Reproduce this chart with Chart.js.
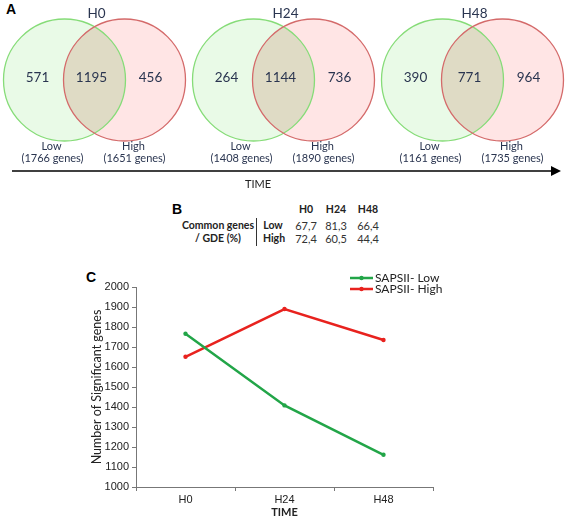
<!DOCTYPE html>
<html>
<head>
<meta charset="utf-8">
<script src="https://cdn.jsdelivr.net/npm/chart.js@4.4.1/dist/chart.umd.min.js"></script>
<style>
body{margin:0;background:#fff;width:567px;height:519px;position:relative;overflow:hidden;font-family:Lato,"Liberation Sans",sans-serif;color:#222}
canvas{position:absolute;left:0}
.t{position:absolute;transform:translate(-50%,-50%);white-space:nowrap}
.lbl{position:absolute;font:bold 14px "Liberation Sans",Arial,sans-serif;color:#000}
.b{font-weight:bold;font-size:10.5px}
.v{font-size:11px;color:#333}
</style>
</head>
<body>
<div class="lbl" style="left:6px;top:1px">A</div>
<div class="lbl" style="left:172px;top:201px">B</div>
<div class="lbl" style="left:86px;top:269px">C</div>
<canvas id="venn" width="567" height="200" style="top:0;width:567px;height:200px"></canvas>
<div id="tab"></div>
<canvas id="myChart" width="567" height="259" style="top:260px;width:567px;height:259px"></canvas>
<script>
// time points
let times=["H0","H24","H48"]
// venn counts
let lowOnly=[571,264,390]
let common=[1195,1144,771]
let highOnly=[456,736,964]
let lowTotal=[1766,1408,1161]
let highTotal=[1651,1890,1735]
// panel B, common genes / GDE (%)
let pctLow=[67.7,81.3,66.4]
let pctHigh=[72.4,60.5,44.4]
// panel C
let yTicks=[1000,1100,1200,1300,1400,1500,1600,1700,1800,1900,2000]
let sigLow=[1766,1408,1161]
let sigHigh=[1651,1890,1735]

// ---- panel A: venns drawn by a plugin on a category scale
const vennPlugin={
  id:'venn',
  afterDraw(chart){
    const ctx=chart.ctx, xs=chart.scales.x, a=chart.chartArea
    const r=61, d=30, cy=a.top+80
    ctx.save()
    for (let i in times){
      const cx=xs.getPixelForValue(Number(i))
      ctx.beginPath();ctx.arc(cx-d,cy,r,0,Math.PI*2);ctx.fillStyle='#e9fae7';ctx.fill()
      ctx.beginPath();ctx.arc(cx+d,cy,r,0,Math.PI*2);ctx.fillStyle='#ffe5e5';ctx.fill()
      ctx.save()
      ctx.beginPath();ctx.arc(cx-d,cy,r,0,Math.PI*2);ctx.clip()
      ctx.beginPath();ctx.arc(cx+d,cy,r,0,Math.PI*2);ctx.fillStyle='#dfdbc5';ctx.fill()
      ctx.restore()
      ctx.lineWidth=1.3
      ctx.beginPath();ctx.arc(cx-d,cy,r,0,Math.PI*2);ctx.strokeStyle='#86dc78';ctx.stroke()
      ctx.beginPath();ctx.arc(cx+d,cy,r,0,Math.PI*2);ctx.strokeStyle='#d46a6a';ctx.stroke()
      ctx.fillStyle='#2a3550';ctx.textAlign='center';ctx.textBaseline='middle'
      ctx.font='13.5px Lato'
      ctx.fillText(times[i],cx+2,a.top+14)
      ctx.fillText(lowOnly[i],cx-57,cy-2)
      ctx.fillText(common[i],cx-3,cy-2)
      ctx.fillText(highOnly[i],cx+56,cy-2)
      ctx.font='11px Lato'
      ctx.fillText('Low',cx-43,a.top+146)
      ctx.fillText('('+lowTotal[i]+' genes)',cx-42,a.top+158)
      ctx.fillText('High',cx+39,a.top+146)
      ctx.fillText('('+highTotal[i]+' genes)',cx+40,a.top+158)
    }
    // time arrow
    ctx.strokeStyle='#000';ctx.lineWidth=1.5
    ctx.beginPath();ctx.moveTo(a.left+12,a.top+171);ctx.lineTo(a.right-14,a.top+171);ctx.stroke()
    ctx.fillStyle='#000'
    ctx.beginPath();ctx.moveTo(a.right-6,a.top+171);ctx.lineTo(a.right-16,a.top+166);ctx.lineTo(a.right-16,a.top+176);ctx.closePath();ctx.fill()
    ctx.font='11px Lato';ctx.fillStyle='#222'
    ctx.fillText('TIME',258,a.top+184)
    ctx.restore()
  }
}
new Chart(document.getElementById('venn'),{
  type:'scatter',
  data:{labels:times,datasets:[{data:[]}]},
  options:{
    responsive:false,animation:false,
    layout:{padding:0},
    plugins:{legend:{display:false},tooltip:{enabled:false}},
    scales:{
      x:{type:'category',offset:true,display:false},
      y:{display:false,min:0,max:1}
    }
  },
  plugins:[vennPlugin]
})

// ---- panel B: small table
function fmt(v){return v.toFixed(1).replace('.',',')}
const tab=document.getElementById('tab')
function put(txt,x,y,cls){
  let e=document.createElement('div')
  e.className='t '+cls
  e.style.left=x+'px';e.style.top=y+'px'
  e.appendChild(document.createTextNode(txt))
  tab.appendChild(e)
}
let colX=[306,336,368]
for (i in times){
  put(times[i],colX[i],209,'b')
  put(fmt(pctLow[i]),colX[i],225,'v')
  put(fmt(pctHigh[i]),colX[i],238,'v')
}
put('Common genes',218,225,'b')
put('/ GDE (%)',218,238,'b')
put('Low',273,225,'b')
put('High',274,238,'b')
let bar=document.createElement('div')
bar.style.cssText='position:absolute;left:256px;top:218px;width:1px;height:28px;background:#333'
tab.appendChild(bar)

// ---- panel C: line chart
const legendPlugin={
  id:'leg',
  afterDraw(chart){
    const ctx=chart.ctx
    const items=[[chart.data.datasets[0],18],[chart.data.datasets[1],29]]
    ctx.save()
    for (let it of items){
      const ds=it[0], y=it[1]
      ctx.strokeStyle=ds.borderColor;ctx.lineWidth=2.5
      ctx.beginPath();ctx.moveTo(350,y);ctx.lineTo(373,y);ctx.stroke()
      ctx.fillStyle=ds.borderColor
      ctx.beginPath();ctx.arc(361.5,y,2.2,0,Math.PI*2);ctx.fill()
      ctx.fillStyle='#222';ctx.font='12px Lato';ctx.textBaseline='middle';ctx.textAlign='left'
      ctx.fillText(ds.label,375,y)
    }
    ctx.restore()
  }
}
var ctx=document.getElementById('myChart').getContext('2d')
var myChart=new Chart(ctx,{
  type:'line',
  data:{
    labels:times,
    datasets:[{
      label:'SAPSII- Low',
      data:sigLow,
      borderColor:'#22a548',
      backgroundColor:'#22a548',
      borderWidth:2.5,
      pointRadius:2.2,
      pointBorderWidth:0
    },{
      label:'SAPSII- High',
      data:sigHigh,
      borderColor:'#e8221e',
      backgroundColor:'#e8221e',
      borderWidth:2.5,
      pointRadius:2.2,
      pointBorderWidth:0
    }]
  },
  options:{
    responsive:false,animation:false,
    layout:{padding:{top:27,right:134,left:89,bottom:0}},
    plugins:{legend:{display:false},tooltip:{enabled:false}},
    scales:{
      x:{
        offset:true,
        grid:{display:true,offset:true,drawOnChartArea:false,drawTicks:true,tickLength:4,color:'#777'},
        border:{display:true,color:'#777',width:1},
        ticks:{color:'#222',font:{family:'Liberation Sans',size:11},padding:2},
        title:{display:true,text:'TIME',color:'#222',font:{family:'Lato',size:11,weight:'bold'},padding:{top:2,bottom:0}},
        afterFit(s){s.height=32}
      },
      y:{
        min:1000,max:2000,
        afterBuildTicks(s){s.ticks=yTicks.map(v=>({value:v}))},
        grid:{display:true,drawOnChartArea:false,drawTicks:true,tickLength:4,color:'#777'},
        border:{display:true,color:'#777',width:1},
        ticks:{color:'#222',font:{family:'Liberation Sans',size:11},padding:3,callback:v=>String(v)},
        title:{display:true,text:'Number of Significant genes',color:'#222',font:{family:'Lato',size:12.5},padding:{top:0,bottom:4}},
        afterFit(s){s.width=47}
      }
    }
  },
  plugins:[legendPlugin]
})
</script>
</body>
</html>
